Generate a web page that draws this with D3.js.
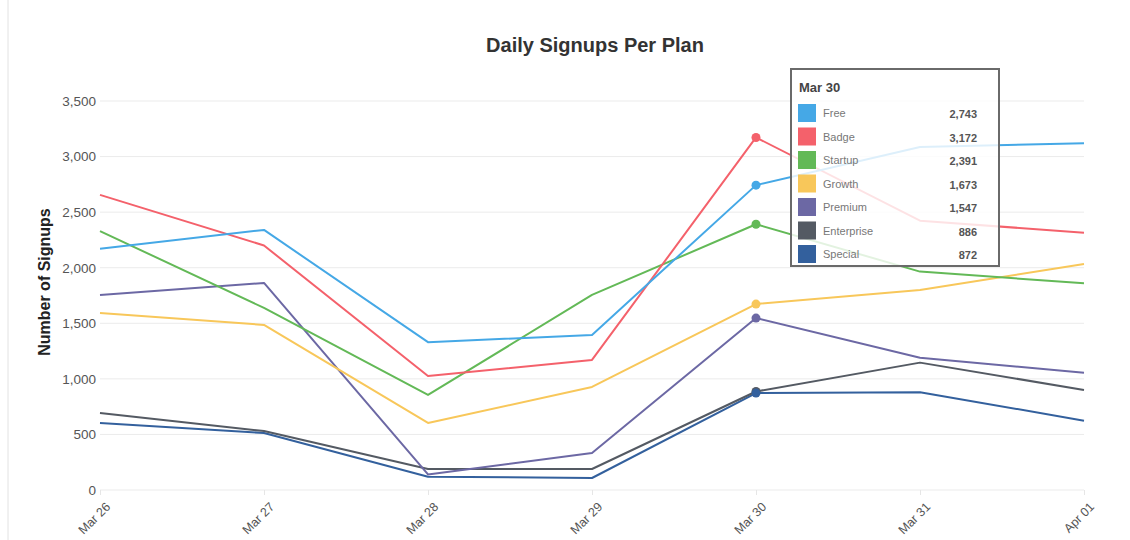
<!DOCTYPE html>
<html><head><meta charset="utf-8">
<script src="https://cdn.jsdelivr.net/npm/d3@7/dist/d3.min.js"></script>
<style>body{margin:0;background:#fff;font-family:"Liberation Sans",Arial,sans-serif}</style>
</head><body><svg id="c" width="1130" height="540"></svg>
<script>
const categories = ["Mar 26","Mar 27","Mar 28","Mar 29","Mar 30","Mar 31","Apr 01"];
const seriesNames = ["Free","Badge","Startup","Growth","Premium","Enterprise","Special"];
const seriesColors = ["#45a8e6","#f4616b","#63b957","#f8c75a","#6c68a4","#545a63","#33609d"];
const free       = [2170, 2340, 1330, 1395, 2743, 3087, 3120];
const badge      = [2655, 2200, 1025, 1170, 3172, 2423, 2315];
const startup    = [2330, 1638,  855, 1755, 2391, 1965, 1860];
const growth     = [1593, 1485,  603,  927, 1673, 1800, 2034];
const premium    = [1755, 1863,  140,  333, 1547, 1190, 1055];
const enterprise = [ 693,  530,  189,  189,  886, 1146,  900];
const special    = [ 603,  513,  120,  108,  872,  880,  624];
const yTicks = [0,500,1000,1500,2000,2500,3000,3500];
const highlightIndex = 4;

const seriesValues = [free,badge,startup,growth,premium,enterprise,special];
const svg = d3.select("#c");
const x = d3.scalePoint().domain(categories).range([100,1084]);
const y = d3.scaleLinear().domain([0,3500]).range([490,101]);
const fmt = d3.format(",");

// page border line
svg.append("line").attr("x1",8).attr("x2",8).attr("y1",0).attr("y2",540).attr("stroke","#e2e2e2").attr("stroke-width",1);

// grid
svg.append("g").selectAll("line").data(yTicks).join("line")
  .attr("x1",100).attr("x2",1084).attr("y1",d=>y(d)).attr("y2",d=>y(d))
  .attr("stroke","#ebebeb").attr("stroke-width",1);

// y axis
const ya = svg.append("g").attr("transform","translate(100,0)")
  .call(d3.axisLeft(y).tickValues(yTicks).tickFormat(fmt).tickSize(0).tickPadding(4));
ya.select(".domain").remove();
ya.selectAll("text").attr("font-size",13.5).attr("fill","#555").attr("font-family","Liberation Sans, Arial, sans-serif");

// x axis
const xa = svg.append("g").attr("transform","translate(0,490)")
  .call(d3.axisBottom(x).tickSize(5).tickPadding(4));
xa.select(".domain").remove();
xa.selectAll(".tick line").attr("stroke","#e6e6e6");
xa.selectAll("text").attr("font-size",12.5).attr("fill","#555").attr("font-family","Liberation Sans, Arial, sans-serif")
  .attr("text-anchor","end").attr("transform","translate(-2,5) rotate(-45)").attr("dy","0.7em");

// title
svg.append("text").attr("x",595).attr("y",52).attr("text-anchor","middle")
  .attr("font-size",20).attr("font-weight","bold").attr("fill","#333").text("Daily Signups Per Plan");
svg.append("text").attr("transform","translate(50,282) rotate(-90)").attr("text-anchor","middle")
  .attr("font-size",16).attr("font-weight","bold").attr("fill","#222").text("Number of Signups");

// lines
const line = d3.line().x((d,i)=>x(categories[i])).y(d=>y(d));
const order = [6,5,4,3,2,1,0];
order.forEach(si=>{
  svg.append("path").datum(seriesValues[si]).attr("d",line)
    .attr("fill","none").attr("stroke",seriesColors[si]).attr("stroke-width",2)
    .attr("stroke-linejoin","round");
});
// markers
[0,1,2,3,4,5,6].forEach(si=>{
  svg.append("circle").attr("cx",x(categories[highlightIndex])).attr("cy",y(seriesValues[si][highlightIndex]))
    .attr("r",4.5).attr("fill",seriesColors[si]);
});

// tooltip
const tt = svg.append("g").attr("transform","translate(791,69)");
tt.append("rect").attr("width",208).attr("height",197).attr("fill","#fff").attr("fill-opacity",0.82)
  .attr("stroke","#6a6a6a").attr("stroke-width",2);
tt.append("text").attr("x",8).attr("y",23).attr("font-size",13).attr("font-weight","bold").attr("fill","#444").text(categories[highlightIndex]);
seriesNames.forEach((n,i)=>{
  const yy = 44 + i*23.5;
  tt.append("rect").attr("x",7).attr("y",yy-9).attr("width",18).attr("height",18).attr("fill",seriesColors[i]);
  tt.append("text").attr("x",32).attr("y",yy+4).attr("font-size",11).attr("fill","#777").text(n);
  tt.append("text").attr("x",186).attr("y",yy+5).attr("text-anchor","end").attr("font-size",11).attr("font-weight","bold").attr("fill","#555")
    .text(fmt(seriesValues[i][highlightIndex]));
});
</script></body></html>
